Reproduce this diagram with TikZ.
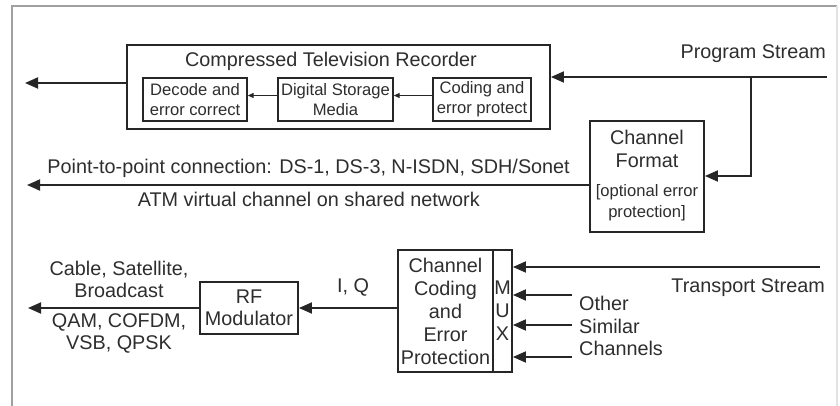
\documentclass[tikz,border=0pt]{standalone}
\usepackage{fontspec}
\setmainfont{Liberation Sans}
\usetikzlibrary{arrows.meta}
\definecolor{ink}{HTML}{262626}
\definecolor{txt}{HTML}{2E2E2E}
\definecolor{framecol}{HTML}{A0A0A0}
\definecolor{framelight}{HTML}{E2E2E2}
\begin{document}
\begin{tikzpicture}[x=1pt,y=-1pt,
  every node/.style={text=txt, inner sep=0pt, font=\fontsize{19.8}{23}\selectfont},
  blk/.style={draw=ink, line width=1.9pt, align=center},
  subblk/.style={draw=ink, line width=1.4pt, align=center, font=\fontsize{16.6}{20}\selectfont},
  smalltxt/.style={font=\fontsize{16.6}{20}\selectfont},
  conn/.style={draw=ink, line width=1.8pt, -{Triangle[length=13pt,width=11pt]}},
  thin/.style={draw=ink, line width=1.2pt, -{Triangle[length=6pt,width=5pt]}}]
\useasboundingbox (0,0) rectangle (840,406);
\fill[white] (0,0) rectangle (840,406);
\draw[framecol, line width=1.5pt] (12,410) -- (12,6) -- (837,6);
\draw[framelight, line width=1.5pt] (837,6) -- (837,410);

% Compressed Television Recorder
\node[blk, minimum width=423pt, minimum height=84pt] (ctr) at (338.5,87) {};
\node (ctrtitle) at (331,61) {Compressed Television Recorder};
\node[subblk, minimum width=104pt, minimum height=43pt] (dec) at (195,99.5) {Decode and\\error correct};
\node[subblk, minimum width=115pt, minimum height=43pt] (dsm) at (335.5,99.5) {Digital Storage\\Media};
\node[subblk, minimum width=98pt, minimum height=43pt] (cod) at (482,99.5) {Coding and\\error protect};
\draw[thin] ([yshift=4pt]cod.west) -- ([yshift=4pt]dsm.east);
\draw[thin] ([yshift=4pt]dsm.west) -- ([yshift=4pt]dec.east);
\coordinate (outA) at (25,83);
\draw[conn] (ctr.west |- outA) -- (outA);

% Program stream
\node[anchor=east] (pslbl) at (826,54) {Program Stream};
\coordinate (psIn) at (827,77);
\coordinate (br) at (751,77);
\coordinate (brd) at (751,176);
\draw[conn] (psIn) -- (ctr.east |- psIn);

% Channel format
\node[blk, minimum width=114pt, minimum height=111pt] (cf) at (647,176.5) {};
\node (cft1) at (647,137) {Channel};
\node (cft2) at (647,161) {Format};
\node[smalltxt] (cft3) at (647,192) {[optional error};
\node[smalltxt] (cft4) at (647,213) {protection]};
\draw[conn] (br) -- (brd) -- (cf.east |- brd);

\coordinate (outB) at (27,185);
\draw[conn] (cf.west |- outB) -- (outB);
\node[anchor=east] (p2p) at (570,168) {Point-to-point connection: DS-1, DS-3, N-ISDN, SDH/Sonet};
\node[anchor=east] (atm) at (480,199) {ATM virtual channel on shared network};

% Channel coding and MUX
\node[blk, minimum width=95pt, minimum height=122pt] (cc) at (445.5,311) {Channel\\Coding\\and\\Error\\Protection};
\node[blk, minimum width=19pt, minimum height=122pt] (mux) at (502.5,311) {M\\U\\X};
\coordinate (ts) at (820,267);
\coordinate (o1) at (572,295);
\coordinate (o2) at (572,325);
\coordinate (o3) at (572,357);
\draw[conn] (ts) -- (mux.east |- ts);
\draw[conn] (o1) -- (mux.east |- o1);
\draw[conn] (o2) -- (mux.east |- o2);
\draw[conn] (o3) -- (mux.east |- o3);
\node[anchor=east] (tslbl) at (825,288) {Transport Stream};
\node[anchor=west, align=left, font=\fontsize{19.8}{22.5}\selectfont] (oth) at (579,326) {Other\\Similar\\Channels};

% RF modulator
\node[blk, minimum width=98pt, minimum height=52pt, font=\fontsize{19.8}{22}\selectfont] (rf) at (249,308) {RF\\Modulator};
\draw[conn] (cc.west |- rf.east) -- (rf.east);
\node (iq) at (353,287) {I, Q};
\coordinate (outC) at (28,308);
\draw[conn] (rf.west) -- (outC);
\node[align=center, font=\fontsize{19.8}{22}\selectfont] (cab) at (119,279) {Cable, Satellite,\\Broadcast};
\node[align=center, font=\fontsize{19.8}{22}\selectfont] (qam) at (119,333) {QAM, COFDM,\\VSB, QPSK};
\end{tikzpicture}
\end{document}
